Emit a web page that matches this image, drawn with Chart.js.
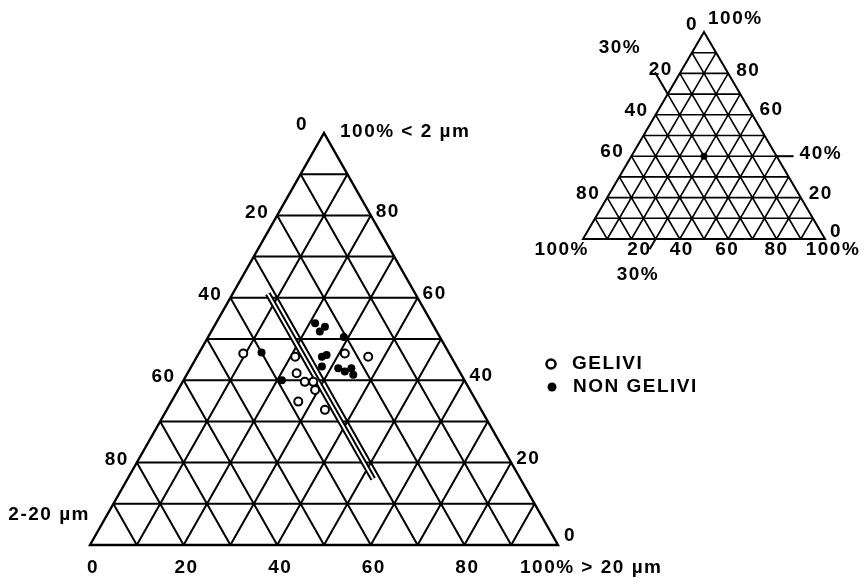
<!DOCTYPE html>
<html>
<head>
<meta charset="utf-8">
<script src="https://cdn.jsdelivr.net/npm/chart.js@4.4.1/dist/chart.umd.min.js"></script>
<style>
  html, body { margin: 0; padding: 0; background: #fff; }
  #wrap { position: relative; width: 868px; height: 584px; }
  #wrap canvas { position: absolute; left: 0; top: 0; }
</style>
</head>
<body>
<div id="wrap">
  <canvas id="main" width="868" height="584"></canvas>
  <canvas id="inset" width="868" height="584"></canvas>
</div>
<script>
// grid every 10 %, labels every 20 %
const gridSteps = [10, 20, 30, 40, 50, 60, 70, 80, 90]
const sideTicks = [20, 40, 60, 80]
const bottomTicks = [0, 20, 40, 60, 80]

// samples: % < 2 µm (clay) and % > 20 µm (sand); 2-20 µm is the rest
const geliviClay = [46.5, 45.7, 41.7, 39.6, 39.6, 37.6, 34.8, 32.8, 46.5, 45.7]
const geliviSand = [9.5, 21.0, 23.3, 26.1, 27.9, 29.3, 27.1, 33.8, 31.2, 36.6]
const nonGeliviClay = [46.7, 53.8, 53.0, 51.8, 45.7, 46.1, 43.3, 42.9, 42.1, 42.9, 41.3, 40.0, 50.5]
const nonGeliviSand = [13.3, 21.2, 23.7, 23.2, 26.7, 27.5, 27.9, 31.6, 33.4, 34.4, 35.6, 21.0, 29.0]

// boundary drawn as a double line at constant 2-20 µm content
const boundarySilt = 31.5
const boundaryClay = [61, 16]

// reading example in the small triangle
const exampleClay = 40
const exampleSilt = 30
const exampleSand = 30

const toXY = (clay, sand) => ({ x: sand + clay / 2, y: clay })

const FONT = 'bold 19px "Liberation Sans", Arial, sans-serif'

const ternaryGrid = {
  id: 'ternaryGrid',
  beforeDatasetsDraw(chart, args, o) {
    const { ctx, scales: { x, y } } = chart
    const P = (clay, sand) => [x.getPixelForValue(sand + clay / 2), y.getPixelForValue(clay)]
    const seg = (a, b) => {
      ctx.moveTo(...P(...a))
      ctx.lineTo(...P(...b))
    }
    ctx.save()
    ctx.strokeStyle = '#000'
    ctx.lineWidth = o.lineWidth
    ctx.beginPath()
    gridSteps.forEach((v) => {
      seg([v, 0], [v, 100 - v])
      seg([0, v], [100 - v, v])
      seg([0, 100 - v], [100 - v, 0])
    })
    ctx.stroke()
    ctx.lineWidth = o.borderWidth
    ctx.beginPath()
    ctx.moveTo(...P(0, 0))
    ctx.lineTo(...P(0, 100))
    ctx.lineTo(...P(100, 0))
    ctx.closePath()
    ctx.stroke()
    ctx.restore()
  },
  afterDraw(chart, args, o) {
    const { ctx, scales: { x, y } } = chart
    const P = (clay, sand) => [x.getPixelForValue(sand + clay / 2), y.getPixelForValue(clay)]
    ctx.save()
    ctx.fillStyle = '#000'
    ctx.strokeStyle = '#000'
    ctx.font = FONT
    ctx.letterSpacing = '1.5px'
    ctx.textBaseline = 'middle'
    ;(o.labels || []).forEach((l) => {
      const [px, py] = P(l.clay, l.sand)
      ctx.textAlign = l.align || 'center'
      ctx.fillText(l.text, px + (l.dx || 0), py + (l.dy || 0))
    })
    if (o.legend) {
      o.legend.forEach((item) => {
        ctx.beginPath()
        ctx.arc(item.x, item.y, 4.5, 0, Math.PI * 2)
        if (item.filled) {
          ctx.fill()
        } else {
          ctx.lineWidth = 2.5
          ctx.stroke()
        }
        ctx.textAlign = 'left'
        ctx.fillText(item.text, item.x + 21, item.y)
      })
    }
    ctx.restore()
  },
}

const hiddenScales = {
  x: { type: 'linear', min: 0, max: 100, display: false },
  y: { type: 'linear', min: 0, max: 100, display: false },
}

// main diagram
const mainLabels = [
  { text: '0', clay: 100, sand: 0, dx: -22, dy: -8 },
  { text: '100% < 2 µm', clay: 100, sand: 0, dx: 16, dy: -1, align: 'left' },
  ...sideTicks.map((v) => ({ text: String(v), clay: 100 - v, sand: 0, dx: -8, dy: -3, align: 'right' })),
  { text: '2-20 µm', clay: 0, sand: 0, dx: 0, dy: -30, align: 'right' },
  ...sideTicks.map((v) => ({ text: String(v), clay: v, sand: 100 - v, dx: 5, dy: -4, align: 'left' })),
  { text: '0', clay: 0, sand: 100, dx: 6, dy: -9, align: 'left' },
  ...bottomTicks.map((v) => ({ text: String(v), clay: 0, sand: v, dx: 3, dy: 23 })),
  { text: '100% > 20 µm', clay: 0, sand: 100, dx: -38, dy: 23, align: 'left' },
]

new Chart(document.getElementById('main'), {
  type: 'scatter',
  data: {
    datasets: [
      {
        label: 'GELIVI',
        data: geliviClay.map((c, i) => toXY(c, geliviSand[i])),
        pointRadius: 4,
        pointBorderWidth: 2,
        pointBackgroundColor: '#fff',
        pointBorderColor: '#000',
        order: 0,
      },
      {
        label: 'NON GELIVI',
        data: nonGeliviClay.map((c, i) => toXY(c, nonGeliviSand[i])),
        pointRadius: 4,
        pointBorderWidth: 0,
        pointBackgroundColor: '#000',
        order: 0,
      },
      {
        type: 'line',
        data: boundaryClay.map((c) => toXY(c, 100 - c - boundarySilt)),
        borderColor: '#fff',
        borderWidth: 2,
        pointRadius: 0,
        order: 1,
      },
      {
        type: 'line',
        data: boundaryClay.map((c) => toXY(c, 100 - c - boundarySilt)),
        borderColor: '#000',
        borderWidth: 6,
        pointRadius: 0,
        order: 2,
      },
    ],
  },
  options: {
    responsive: false,
    animation: false,
    layout: { padding: { left: 90, right: 310, top: 133, bottom: 39 } },
    scales: hiddenScales,
    plugins: {
      legend: { display: false },
      tooltip: { enabled: false },
      ternaryGrid: {
        lineWidth: 2,
        borderWidth: 2.4,
        labels: mainLabels,
        legend: [
          { text: 'GELIVI', x: 551, y: 364, filled: false },
          { text: 'NON GELIVI', x: 552, y: 387, filled: true },
        ],
      },
    },
  },
  plugins: [ternaryGrid],
})

// small key triangle
const insetLabels = [
  { text: '0', clay: 100, sand: 0, dx: -12, dy: -7 },
  { text: '100%', clay: 100, sand: 0, dx: 4, dy: -13, align: 'left' },
  { text: '30%', clay: 100, sand: 0, dx: -84, dy: 16 },
  ...sideTicks.map((v) => ({ text: String(v), clay: 100 - v, sand: 0, dx: -7, dy: -4, align: 'right' })),
  { text: '100%', clay: 0, sand: 0, dx: 6, dy: 11, align: 'right' },
  { text: '80', clay: 80, sand: 20, dx: 8, dy: -3, align: 'left' },
  { text: '60', clay: 60, sand: 40, dx: 7, dy: -5, align: 'left' },
  { text: '40%', clay: 40, sand: 60, dx: 23, dy: -2, align: 'left' },
  { text: '20', clay: 20, sand: 80, dx: 8, dy: -4, align: 'left' },
  { text: '0', clay: 0, sand: 100, dx: 5, dy: -7, align: 'left' },
  { text: '20', clay: 0, sand: 20, dx: 8, dy: 11 },
  { text: '40', clay: 0, sand: 40, dx: 2, dy: 11 },
  { text: '60', clay: 0, sand: 60, dx: -1, dy: 11 },
  { text: '80', clay: 0, sand: 80, dx: 0, dy: 11 },
  { text: '100%', clay: 0, sand: 100, dx: 8, dy: 11 },
  { text: '30%', clay: 0, sand: 0, dx: 55, dy: 36 },
]

const extLine = (pts) => ({
  type: 'line',
  data: pts.map(([c, s]) => toXY(c, s)),
  borderColor: '#000',
  borderWidth: 2,
  pointRadius: 0,
  clip: false,
})

new Chart(document.getElementById('inset'), {
  type: 'scatter',
  data: {
    datasets: [
      {
        data: [toXY(exampleClay, exampleSand)],
        pointRadius: 3.5,
        pointBorderWidth: 0,
        pointBackgroundColor: '#000',
      },
      // 2-20 µm = 30 %, carried out past the left side
      extLine([[100 - exampleSilt, 0], [100 - exampleSilt + 10.5, -10.5]]),
      // < 2 µm = 40 %, carried out past the right side
      extLine([[exampleClay, 100 - exampleClay], [exampleClay, 100 - exampleClay + 7]]),
      // > 20 µm = 30 %, carried out below the base
      extLine([[0, exampleSand], [-5, exampleSand]]),
    ],
  },
  options: {
    responsive: false,
    animation: false,
    layout: { padding: { left: 583, right: 43, top: 32, bottom: 345 } },
    scales: hiddenScales,
    plugins: {
      legend: { display: false },
      tooltip: { enabled: false },
      ternaryGrid: { lineWidth: 1.6, borderWidth: 2, labels: insetLabels },
    },
  },
  plugins: [ternaryGrid],
})
</script>
</body>
</html>
